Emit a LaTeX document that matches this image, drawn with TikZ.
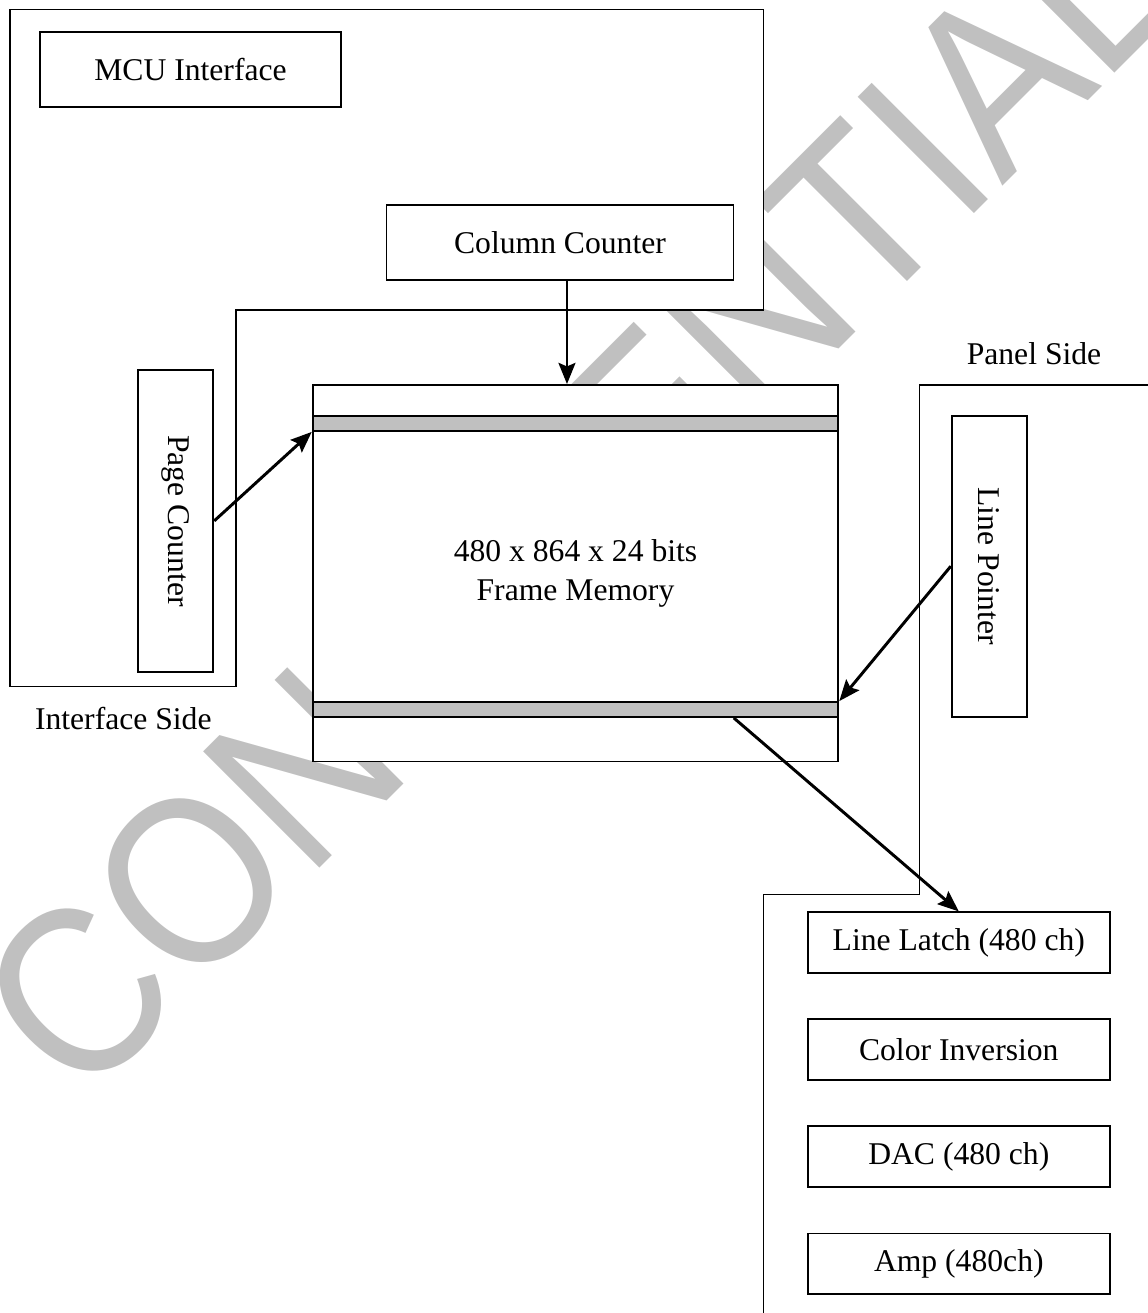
\documentclass[tikz,border=0pt]{standalone}
\usepackage{fontspec}
\setmainfont{Liberation Serif}
\newfontfamily\wmfont{Liberation Sans}
\usetikzlibrary{arrows.meta, positioning, calc}
\definecolor{wmgray}{RGB}{192,192,192}
\definecolor{bandgray}{RGB}{192,192,192}
\newcommand{\pxl}{0.025cm}
\tikzset{
  box/.style    = {draw=black, line width=1.3pt, fill=white, inner sep=0pt,
                   font=\fontsize{22.5pt}{27.5pt}\selectfont},
  chbox/.style  = {minimum width=301.6*\pxl, minimum height=60.4*\pxl},
  band/.style   = {draw=black, line width=1.3pt, fill=bandgray, inner sep=0pt,
                   minimum width=525.7*\pxl, minimum height=15*\pxl},
  region/.style = {draw=black, line width=1.3pt},
  side/.style   = {inner sep=0pt, font=\fontsize{22.5pt}{27.5pt}\selectfont},
  arrow/.style  = {-{Stealth[length=15pt, width=12pt, inset=2.5pt]}, line width=2.1pt},
  wm/.style     = {inner sep=0pt, text=wmgray, rotate=45,
                   font=\wmfont\fontsize{170pt}{170pt}\selectfont},
}

\begin{document}
\begin{tikzpicture}[x=\pxl, y=-\pxl]
  \useasboundingbox (0,0) rectangle (1148,1313);
  % watermark, under the white regions
  \node[wm] (wmark) at (576,496) {\scalebox{0.891}[1]{CONFIDENTIAL}};

  % interface side
  \draw[region, fill=white] (10,9.5) -- (763.5,9.5) -- (763.5,310) -- (236,310)
    -- (236,686.5) -- (10,686.5) -- cycle;
  \node[box, minimum width=301*\pxl, minimum height=75.3*\pxl] (mcu) at (190.5,69.3) {MCU Interface};
  \node[box, minimum width=347*\pxl, minimum height=75*\pxl] (colcnt) at (560,242.5) {Column Counter};
  \node[box, rotate=-90, minimum width=301.7*\pxl, minimum height=75*\pxl] (pagecnt) at (175.8,520.9) {Page Counter};
  \node[side] (ifside) at (123.3,719) {Interface Side};

  % panel side
  \draw[region] (1150,385) -- (919.5,385) -- (919.5,894.5) -- (763.5,894.5) -- (763.5,1316);
  \node[side] (panelside) at (1034,354) {Panel Side};
  \node[box, rotate=-90, minimum width=301*\pxl, minimum height=75*\pxl] (linept) at (989.2,566.2) {Line Pointer};
  \node[box, chbox] (latch) at (958.8,942.5) {Line Latch (480 ch)};
  \foreach \nm/\txt [remember=\nm as \prev (initially latch)] in
      {inv/{Color Inversion}, dac/{DAC (480 ch)}, amp/{Amp (480ch)}}
    \node[box, chbox, below=1.12cm of \prev] (\nm) {\txt};

  % frame memory
  \node[box, align=center, minimum width=525.7*\pxl, minimum height=376.5*\pxl] (frame) at (575.5,573.2)
    {480 x 864 x 24 bits\\Frame Memory};
  \node[band] (bandtop) at (575.5,423.5) {};
  \node[band] (bandbot) at (575.5,709.5) {};

  % connectors (rotated boxes: north = right side, south = left side)
  \coordinate (colout) at ($(colcnt.south west)!0.52!(colcnt.south east)$);
  \draw[arrow] (colout) -- (colout |- frame.north);
  \draw[arrow] (pagecnt.north) -- (bandtop.south west);
  \draw[arrow] (linept.south) -- (bandbot.north east);
  \draw[arrow] ($(bandbot.south west)!0.8!(bandbot.south east)$) -- (latch.north);
\end{tikzpicture}
\end{document}
